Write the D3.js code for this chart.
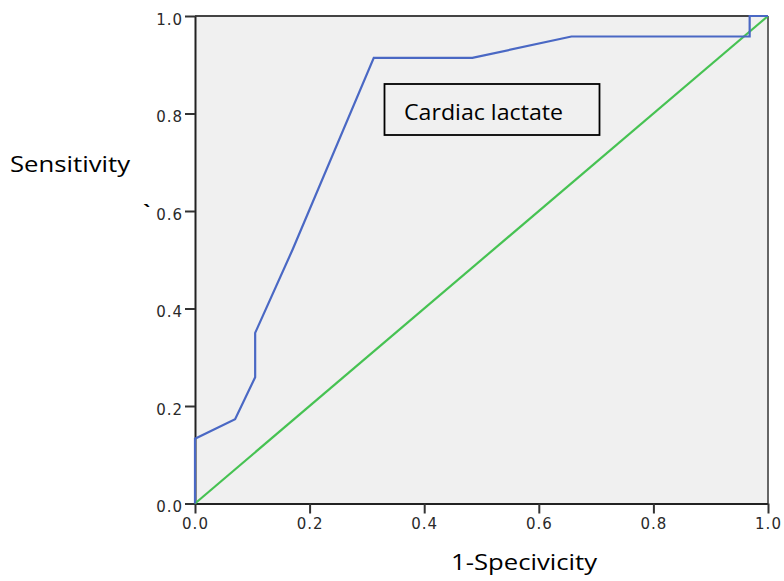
<!DOCTYPE html>
<html><head><meta charset="utf-8">
<script src="https://cdn.jsdelivr.net/npm/d3@7"></script>
<style>body{margin:0;background:#fff;} svg{display:block;}</style>
</head><body>
<svg id="chart" width="784" height="581"></svg>
<script>
const rocFpr  = [0, 0, 0.07, 0.105, 0.105, 0.17, 0.312, 0.484, 0.657, 0.968, 0.968, 1.0];
const rocTpr  = [0, 0.133, 0.173, 0.259, 0.35, 0.52, 0.914, 0.914, 0.958, 0.958, 1.0, 1.0];
const refX    = [0, 1];
const refY    = [0, 1];
const tickVals = [0, 0.2, 0.4, 0.6, 0.8, 1.0];
const tickLabels = ["0.0", "0.2", "0.4", "0.6", "0.8", "1.0"];
const legendLabel = "Cardiac lactate";
const xTitle = "1-Specivicity";
const yTitle = "Sensitivity";

const svg = d3.select("#chart");
const L = 195, R = 768, T = 16, B = 503.5;
const x = d3.scaleLinear().domain([0, 1]).range([L, R]);
const y = d3.scaleLinear().domain([0, 1]).range([B, T]);

svg.append("rect").attr("x", L).attr("y", T).attr("width", R - L).attr("height", B - T)
  .attr("fill", "#f0f0f0");

// frame top/right
svg.append("line").attr("x1", L).attr("x2", R).attr("y1", T).attr("y2", T)
  .attr("stroke", "#444").attr("stroke-width", 2);
svg.append("line").attr("x1", R).attr("x2", R).attr("y1", T).attr("y2", B)
  .attr("stroke", "#666").attr("stroke-width", 2);

const tickFont = "'DejaVu Sans', sans-serif";
const xAxis = svg.append("g").attr("transform", `translate(0,${B})`)
  .call(d3.axisBottom(x).tickValues(tickVals).tickFormat((d, i) => tickLabels[i]).tickSizeOuter(0).tickSizeInner(10).tickPadding(5));
const yAxis = svg.append("g").attr("transform", `translate(${L},0)`)
  .call(d3.axisLeft(y).tickValues(tickVals).tickFormat((d, i) => tickLabels[i]).tickSizeOuter(0).tickSizeInner(10).tickPadding(2));
[xAxis, yAxis].forEach(g => {
  g.select(".domain").attr("stroke", "#222").attr("stroke-width", 2);
  g.selectAll(".tick line").attr("stroke", "#333").attr("stroke-width", 2);
  g.selectAll(".tick text").attr("fill", "#2a2a2a").style("font-family", tickFont)
    .style("font-size", "15px").style("letter-spacing", "1px");
});
yAxis.selectAll(".tick text").attr("dy", "0.55em");

// reference line
const line = d3.line().x(d => x(d[0])).y(d => y(d[1]));
svg.append("path").datum(d3.zip(refX, refY)).attr("d", line)
  .attr("fill", "none").attr("stroke", "#46c252").attr("stroke-width", 2.2);
// ROC curve
svg.append("path").datum(d3.zip(rocFpr, rocTpr)).attr("d", line)
  .attr("fill", "none").attr("stroke", "#4a68c4").attr("stroke-width", 2.2)
  .attr("stroke-linejoin", "miter");

// legend box
svg.append("rect").attr("x", 384.5).attr("y", 84).attr("width", 215).attr("height", 51)
  .attr("fill", "none").attr("stroke", "#000").attr("stroke-width", 1.8);
const titleFont = "'Open Sans', 'Noto Sans', sans-serif";
svg.append("text").attr("x", 404).attr("y", 120).text(legendLabel)
  .style("font-family", titleFont).style("font-size", "22px").attr("fill", "#000")
  .attr("textLength", 159).attr("lengthAdjust", "spacingAndGlyphs");

svg.append("text").attr("x", 10).attr("y", 171.5).text(yTitle)
  .style("font-family", titleFont).style("font-size", "22px").attr("fill", "#000")
  .attr("textLength", 120).attr("lengthAdjust", "spacingAndGlyphs");
svg.append("text").attr("x", 451).attr("y", 570).text(xTitle)
  .style("font-family", titleFont).style("font-size", "22px").attr("fill", "#000")
  .attr("textLength", 146).attr("lengthAdjust", "spacingAndGlyphs");
svg.append("text").attr("x", 143).attr("y", 219).text("`")
  .style("font-family", titleFont).style("font-size", "20px").style("font-weight", "bold").attr("fill", "#000");
</script>
</body></html>
